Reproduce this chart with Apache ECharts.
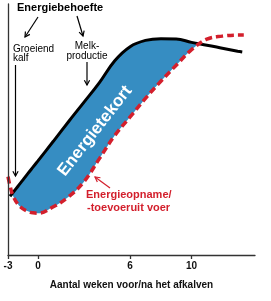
<!DOCTYPE html>
<html>
<head>
<meta charset="utf-8">
<script src="https://cdn.jsdelivr.net/npm/echarts@6/dist/echarts.min.js"></script>
<style>html,body{margin:0;padding:0;background:#fff;}#c{width:271px;height:301px;}</style>
</head>
<body>
<div id="c"></div>
<script>
// Weeks relative to calving
const weeksReq = [-2.8,-2.5,-2,-1.5,-1,-0.5,0,1,2,3,4,5,6,7,8,9,10,11,12,13,13.3];
const energyReq = [23.4,24.9,27.4,29.9,32.5,35.0,37.5,45.3,53.2,60.9,68.7,77.4,83.0,85.5,86.2,86.1,84.7,83.6,82.4,81.2,80.9];
const weeksIntake = [-3,-2.8,-2.5,-2,-1.5,-1,-0.5,0,1,2,3,4,5,6,7,8,9,10,11,12,13,13.4];
const energyIntake = [31.2,27.6,23.6,20.2,18.4,17.4,16.8,16.6,19.2,23.2,29.2,38.4,47.6,55.0,62.4,69.2,75.6,81.8,86.0,87.2,87.6,87.6];
const tickWeeks = [-3,0,6,10];
const axisTitle = 'Aantal weken voor/na het afkalven';

// the pre-calving period is drawn compressed on the axis
const preScale = 0.65;
const toAxis = w => w < 0 ? w * preScale : w;
const fromAxis = u => u < 0 ? Math.round(u / preScale) : Math.round(u);

const reqData = weeksReq.map((w, i) => [toAxis(w), energyReq[i]]);
const intakeData = weeksIntake.map((w, i) => [toAxis(w), energyIntake[i]]);
const tickPos = tickWeeks.map(toAxis);

const FONT = '"Liberation Sans", Arial, sans-serif';
const BLUE = '#368dc2';
const RED = '#d31f2c';

function arrow(x1, y1, x2, y2, color, w) {
  const a = Math.atan2(y2 - y1, x2 - x1), L = 5.5, s = 0.5;
  return [
    {type:'line', z:100, shape:{x1, y1, x2, y2}, style:{stroke:color, lineWidth:w}},
    {type:'polyline', z:100, shape:{points:[
      [x2 - L*Math.cos(a - s), y2 - L*Math.sin(a - s)], [x2, y2],
      [x2 - L*Math.cos(a + s), y2 - L*Math.sin(a + s)]]},
      style:{stroke:color, lineWidth:w, fill:null}}
  ];
}
function txt(x, y, text, font, fill, align, extra) {
  return Object.assign({type:'text', z:100, x, y, style:{text, font, fill, align:align||'left', verticalAlign:'middle'}}, extra||{});
}

const chart = echarts.init(document.getElementById('c'), null, {renderer:'canvas'});
chart.setOption({
  animation:false,
  grid:{left:8, right:16, top:4, bottom:46},
  xAxis:{
    type:'value', min:toAxis(-3), max:14.13, z:10,
    axisLine:{show:true, onZero:false, lineStyle:{color:'#333', width:1.3}},
    axisTick:{show:true, length:4, customValues:tickPos, lineStyle:{color:'#333', width:1.3}},
    axisLabel:{customValues:tickPos, formatter:v => String(fromAxis(v)), color:'#111', fontFamily:FONT, fontWeight:'bold', fontSize:10, margin:6},
    splitLine:{show:false},
    name:axisTitle, nameLocation:'middle', nameGap:25,
    nameTextStyle:{color:'#111', fontFamily:FONT, fontWeight:'bold', fontSize:10}
  },
  yAxis:{
    type:'value', min:0, max:100, z:10,
    axisLine:{show:true, onZero:false, lineStyle:{color:'#333', width:1.3}},
    axisTick:{show:false}, axisLabel:{show:false}, splitLine:{show:false}
  },
  series:[
    {type:'line', data:reqData, smooth:0.4, symbol:'none', z:1, lineStyle:{width:0, opacity:0}, areaStyle:{color:BLUE, opacity:1}},
    {type:'line', data:intakeData, smooth:0.4, symbol:'none', z:2, lineStyle:{width:0, opacity:0}, areaStyle:{color:'#fff', opacity:1}},
    {type:'line', data:reqData, smooth:0.4, symbol:'none', z:3, lineStyle:{color:'#000', width:3}},
    {type:'line', data:intakeData, smooth:0.4, symbol:'none', z:4, lineStyle:{color:RED, width:3.5, type:[7,4], cap:'butt'}}
  ],
  graphic:[
    txt(17, 8, 'Energiebehoefte', 'bold 11px ' + FONT, '#000'),
    ...arrow(38, 17, 25, 37, '#000', 1.2),
    ...arrow(77, 16, 83, 36, '#000', 1.2),
    txt(13, 49, 'Groeiend', '10px ' + FONT, '#000'),
    txt(13, 58.5, 'kalf', '10px ' + FONT, '#000'),
    txt(87, 46, 'Melk-', '10px ' + FONT, '#000', 'center'),
    txt(87, 56, 'productie', '10px ' + FONT, '#000', 'center'),
    ...arrow(15.5, 65, 15.5, 176, '#000', 1.2),
    ...arrow(87, 62, 87, 85, '#000', 1.2),
    txt(95, 131, 'Energietekort', 'bold 17px ' + FONT, '#fff', 'center', {rotation:52*Math.PI/180}),
    ...arrow(110, 188, 95, 177, RED, 1.2),
    txt(86, 195, 'Energieopname/', 'bold 11px ' + FONT, RED),
    txt(87, 207.5, '-toevoeruit voer', 'bold 11px ' + FONT, RED)
  ]
});
</script>
</body>
</html>
